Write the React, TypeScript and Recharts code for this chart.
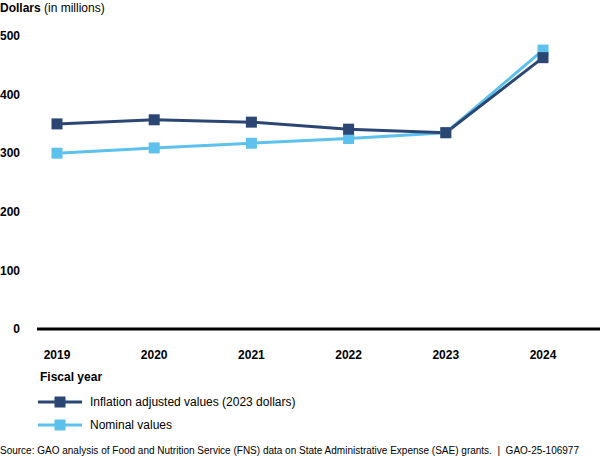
import React from 'react';
import { LineChart, Line, XAxis, YAxis } from 'recharts';

const years = ['2019', '2020', '2021', '2022', '2023', '2024'];
const inflationAdjusted = [350, 357, 353, 341, 335, 463];
const nominal = [300, 309, 317, 325, 335, 476];
const yTicks = [0, 100, 200, 300, 400, 500];

const DARK = '#2c4674';
const LIGHT = '#5cc1ec';
const FONT = '"Liberation Sans", Arial, sans-serif';

const data = years.map((y, i) => ({ year: y, inflation: inflationAdjusted[i], nominal: nominal[i] }));

const squareDot = (color: string) => (props: any) => {
  const { cx, cy, index } = props;
  if (cx == null || cy == null) return <g key={index} />;
  const s = 11;
  return <rect key={index} x={cx - s / 2} y={cy - s / 2} width={s} height={s} fill={color} />;
};

const LegendRow = ({ color, label, top }: { color: string; label: string; top: number }) => (
  <div style={{ position: 'absolute', left: 38, top, height: 16, display: 'flex', alignItems: 'center' }}>
    <svg width={46} height={16} style={{ display: 'block' }}>
      <line x1={0} y1={8} x2={44} y2={8} stroke={color} strokeWidth={3} />
      <rect x={16.5} y={2.5} width={11} height={11} fill={color} />
    </svg>
    <span style={{ marginLeft: 6, fontSize: 12, color: '#000', whiteSpace: 'nowrap' }}>{label}</span>
  </div>
);

export default function App() {
  return (
    <div style={{ position: 'absolute', left: 0, top: 0, width: 600, height: 458, background: '#fff', fontFamily: FONT, overflow: 'hidden' }}>
      <div style={{ position: 'absolute', left: 0, top: 0, fontSize: 12, lineHeight: '16px', whiteSpace: 'nowrap', color: '#000' }}>
        <b>Dollars</b> (in millions)
      </div>
      <LineChart width={600} height={458} data={data} margin={{ top: 36, right: 0, bottom: 99, left: 0 }}>
        <XAxis
          dataKey="year"
          height={30}
          padding={{ left: 20, right: 57 }}
          axisLine={{ stroke: '#000', strokeWidth: 3 }}
          tickLine={false}
          tickSize={0}
          tickMargin={21}
          interval={0}
          tick={{ fill: '#000', fontSize: 12, fontWeight: 'bold', fontFamily: FONT }}
        />
        <YAxis
          domain={[0, 500]}
          ticks={yTicks}
          width={37}
          axisLine={false}
          tickLine={false}
          tickSize={0}
          tickMargin={17}
          interval={0}
          tick={{ fill: '#000', fontSize: 12, fontWeight: 'bold', fontFamily: FONT }}
        />
        <Line
          dataKey="nominal"
          stroke={LIGHT}
          strokeWidth={3}
          dot={squareDot(LIGHT)}
          activeDot={false}
          isAnimationActive={false}
        />
        <Line
          dataKey="inflation"
          stroke={DARK}
          strokeWidth={3}
          dot={squareDot(DARK)}
          activeDot={false}
          isAnimationActive={false}
        />
      </LineChart>
      <div style={{ position: 'absolute', left: 40, top: 369, fontSize: 12, fontWeight: 'bold', lineHeight: '16px', color: '#000' }}>
        Fiscal year
      </div>
      <LegendRow color={DARK} label="Inflation adjusted values (2023 dollars)" top={394} />
      <LegendRow color={LIGHT} label="Nominal values" top={417} />
      <div style={{ position: 'absolute', left: 0, top: 444, fontSize: 10, lineHeight: '14px', whiteSpace: 'nowrap', color: '#000' }}>
        Source: GAO analysis of Food and Nutrition Service (FNS) data on State Administrative Expense (SAE) grants.&nbsp; |&nbsp; GAO-25-106977
      </div>
    </div>
  );
}
